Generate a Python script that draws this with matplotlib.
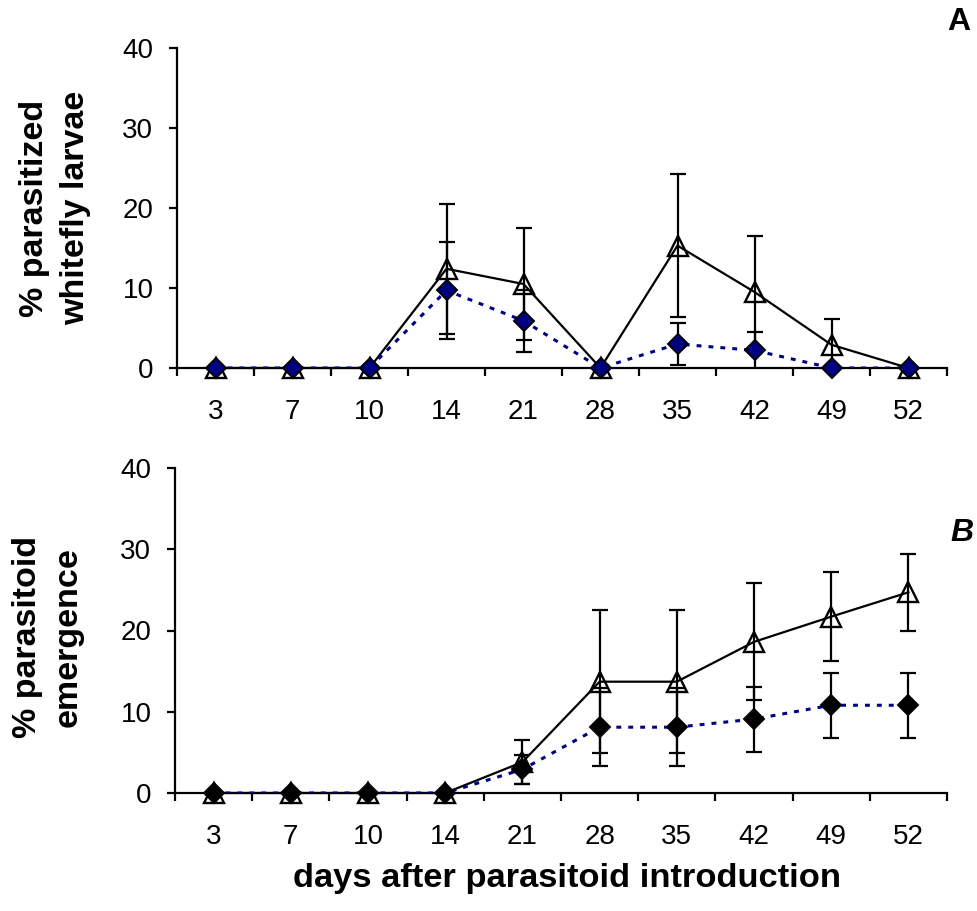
import numpy as np
import matplotlib
matplotlib.use("Agg")
import matplotlib.pyplot as plt

plt.rcParams['font.family'] = ['Liberation Sans', 'DejaVu Sans']

days = ['3', '7', '10', '14', '21', '28', '35', '42', '49', '52']

# panel A: % parasitized whitefly larvae
a_tri = [0, 0, 0, 12.4, 10.5, 0, 15.3, 9.5, 2.9, 0]
a_tri_err = [0, 0, 0, 8.1, 7.0, 0, 8.9, 7.0, 3.2, 0]
a_dia = [0, 0, 0, 9.7, 5.9, 0, 3.0, 2.2, 0, 0]
a_dia_err = [0, 0, 0, 6.1, 3.9, 0, 2.6, 2.3, 0, 0]

# panel B: % parasitoid emergence
b_tri = [0, 0, 0, 0, 3.8, 13.7, 13.7, 18.6, 21.7, 24.7]
b_tri_err = [0, 0, 0, 0, 2.7, 8.8, 8.8, 7.2, 5.5, 4.7]
b_dia = [0, 0, 0, 0, 2.9, 8.1, 8.1, 9.1, 10.8, 10.8]
b_dia_err = [0, 0, 0, 0, 1.8, 4.8, 4.8, 4.0, 4.0, 4.0]

W, H = 978, 911
fig = plt.figure(figsize=(W / 100, H / 100), dpi=100)
ax_a = fig.add_axes([177 / W, 1 - 368 / H, 770 / W, 320 / H])
ax_b = fig.add_axes([175 / W, 1 - 793 / H, 772 / W, 325 / H])

navy = '#000080'


def draw_panel(ax, tri, tri_err, dia, dia_err, dia_fill):
    x = np.arange(len(days))
    tri = np.array(tri, dtype=float)
    dia = np.array(dia, dtype=float)
    tri_err = np.array(tri_err, dtype=float)
    dia_err = np.array(dia_err, dtype=float)

    m = tri_err > 0
    ax.errorbar(x[m], tri[m], yerr=tri_err[m], fmt='none', ecolor='black',
                elinewidth=1.6, capsize=6, capthick=1.6, zorder=2)
    m = dia_err > 0
    ax.errorbar(x[m], dia[m], yerr=dia_err[m], fmt='none', ecolor='black',
                elinewidth=1.6, capsize=6, capthick=1.6, zorder=2)

    ax.plot(x, tri, color='black', lw=1.6, marker='^', ms=14.5, mfc='none',
            mec='black', mew=1.7, zorder=3, clip_on=False)
    ax.plot(x, dia, color=navy, lw=2.2, ls=(0, (1.6, 2.3)), zorder=4)
    ax.plot(x, dia, ls='none', marker='D', ms=10.5, mfc=dia_fill, mec='black',
            mew=1.4, zorder=5, clip_on=False)

    ax.set_xlim(-0.5, len(days) - 0.5)
    ax.set_ylim(0, 40)
    ax.set_yticks([0, 10, 20, 30, 40])
    ax.set_xticks(x)
    ax.set_xticklabels(days)
    ax.set_xticks(np.arange(len(days) + 1) - 0.5, minor=True)
    ax.tick_params(axis='x', which='major', length=0, pad=22, labelsize=20)
    ax.tick_params(axis='x', which='minor', length=6, width=1.6, direction='out')
    ax.tick_params(axis='y', length=6, width=1.6, direction='out', pad=11, labelsize=20)
    for s in ['top', 'right']:
        ax.spines[s].set_visible(False)
    for s in ['left', 'bottom']:
        ax.spines[s].set_linewidth(1.6)


draw_panel(ax_a, a_tri, a_tri_err, a_dia, a_dia_err, navy)
draw_panel(ax_b, b_tri, b_tri_err, b_dia, b_dia_err, 'black')

fig.text(55 / W, 1 - 208 / H, '% parasitized\nwhitefly larvae', rotation=90,
         ha='center', va='center', fontsize=24.5, fontweight='bold', linespacing=1.4)
fig.text(48 / W, 1 - 637 / H, '% parasitoid\nemergence', rotation=90,
         ha='center', va='center', fontsize=24.5, fontweight='bold', linespacing=1.4)
fig.text(567 / W, 1 - 878 / H, 'days after parasitoid introduction',
         ha='center', va='center', fontsize=24.8, fontweight='bold')
fig.text(959 / W, 1 - 22 / H, 'A', ha='center', va='center', fontsize=23, fontweight='bold')
fig.text(962 / W, 1 - 533 / H, 'B', ha='center', va='center', fontsize=23,
         fontweight='bold', fontstyle='italic')

fig.savefig('out.png', dpi=100)
